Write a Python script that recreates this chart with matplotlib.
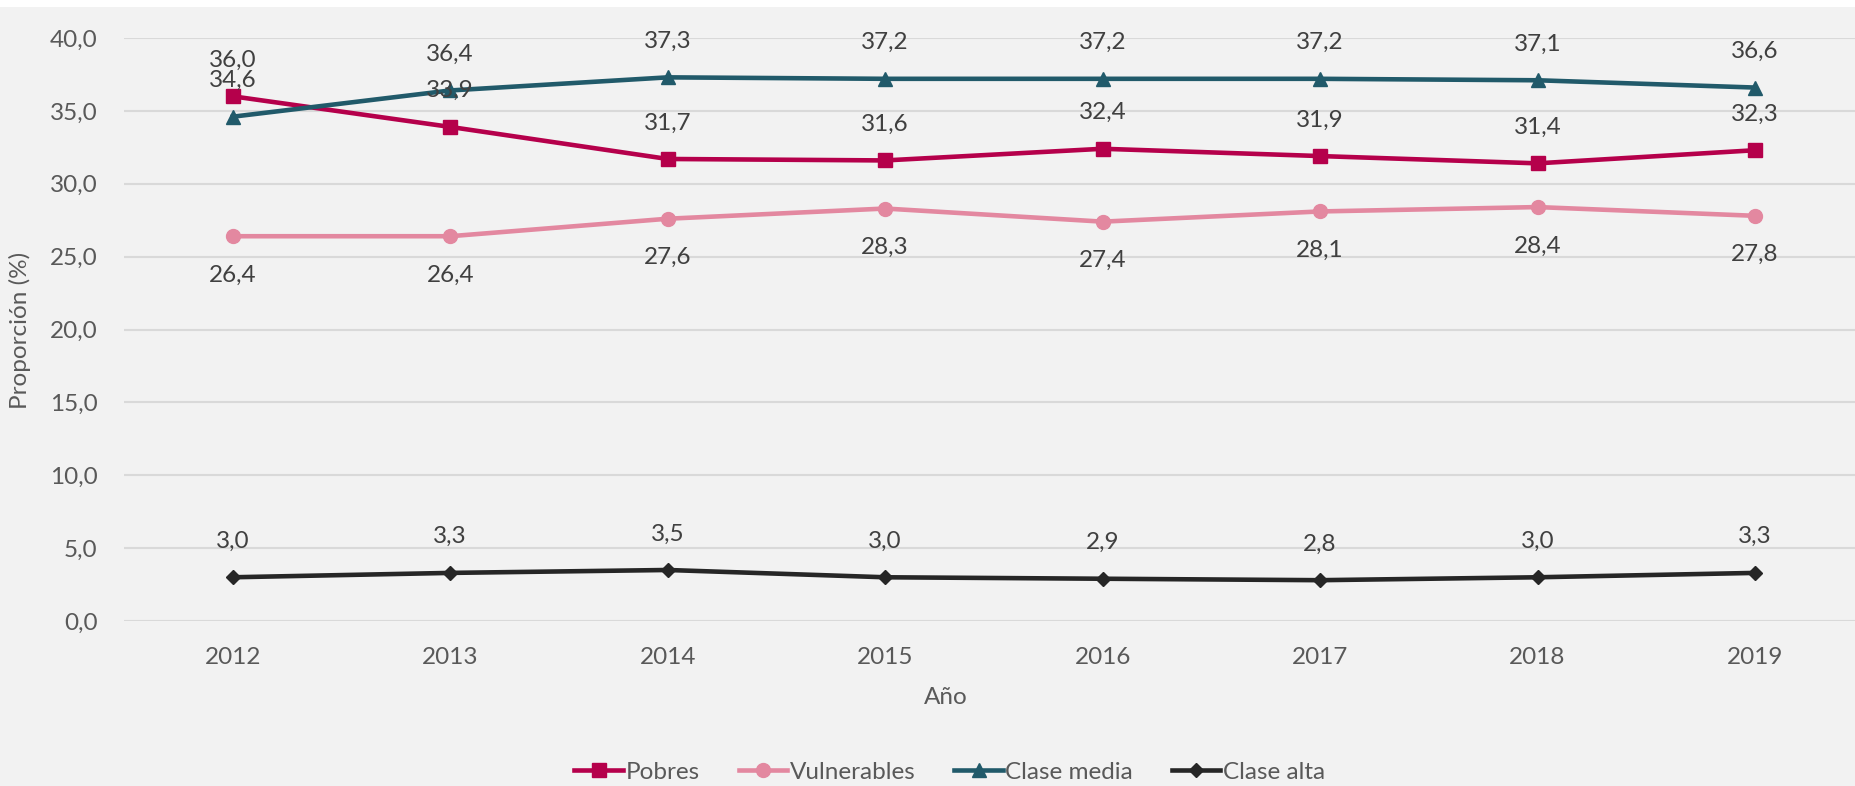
import matplotlib.pyplot as plt
from matplotlib.patches import Rectangle

plt.rcParams['font.family'] = ['Lato', 'DejaVu Sans']

anios = ['2012', '2013', '2014', '2015', '2016', '2017', '2018', '2019']
pobres = [36.0, 33.9, 31.7, 31.6, 32.4, 31.9, 31.4, 32.3]
vulnerables = [26.4, 26.4, 27.6, 28.3, 27.4, 28.1, 28.4, 27.8]
clase_media = [34.6, 36.4, 37.3, 37.2, 37.2, 37.2, 37.1, 36.6]
clase_alta = [3.0, 3.3, 3.5, 3.0, 2.9, 2.8, 3.0, 3.3]

bg = '#F2F2F2'
fs = 17.5
fig = plt.figure(figsize=(18.55, 7.86), dpi=100, facecolor=bg)
fig.patches.append(Rectangle((0, 1 - 7 / 786), 1, 7 / 786, transform=fig.transFigure,
                             facecolor='white', edgecolor='none'))
ax = fig.add_axes([124 / 1855, 1 - 621 / 786, 1 - 124 / 1855, (621 - 38) / 786])
ax.set_facecolor(bg)

x = range(len(anios))
series = [
    ('Pobres', pobres, '#B5004B', 's', 10, 26),
    ('Vulnerables', vulnerables, '#E388A0', 'o', 10, -28),
    ('Clase media', clase_media, '#215A6A', '^', 10, 26),
    ('Clase alta', clase_alta, '#262626', 'D', 7, 26),
]
for name, vals, col, mk, ms, off in series:
    ax.plot(x, vals, color=col, lw=3.3, marker=mk, ms=ms, label=name, zorder=3)
    for xi, v in zip(x, vals):
        ax.annotate(f'{v:.1f}'.replace('.', ','), (xi, v), xytext=(0, off),
                    textcoords='offset points', ha='center', va='center',
                    fontsize=fs, color='#404040', zorder=4)

ax.set_ylim(0, 40)
ax.set_xlim(-0.5, 7.46)
ax.set_yticks(range(0, 41, 5))
ax.set_yticklabels([f'{t:.1f}'.replace('.', ',') for t in range(0, 41, 5)])
ax.set_xticks(list(x))
ax.set_xticklabels(anios)
ax.tick_params(length=0, labelsize=fs, labelcolor='#595959', pad=19)
ax.tick_params(axis='x', pad=19)
ax.grid(axis='y', color='#D9D9D9', lw=1.5, zorder=0)
for s in ax.spines.values():
    s.set_visible(False)

fig.text(20 / 1855, 1 - 330 / 786, 'Proporción (%)', rotation=90, ha='center', va='center',
         fontsize=fs, color='#595959')
fig.text(0.51, 1 - 698 / 786, 'Año', ha='center', va='center', fontsize=fs, color='#595959')

fig.legend(loc='center', bbox_to_anchor=(0.512, 1 - 772 / 786), ncol=4, frameon=False,
           fontsize=fs, labelcolor='#595959', handlelength=2.0, handletextpad=0.1,
           columnspacing=1.6)

fig.savefig('out.png', dpi=100, facecolor=bg)
